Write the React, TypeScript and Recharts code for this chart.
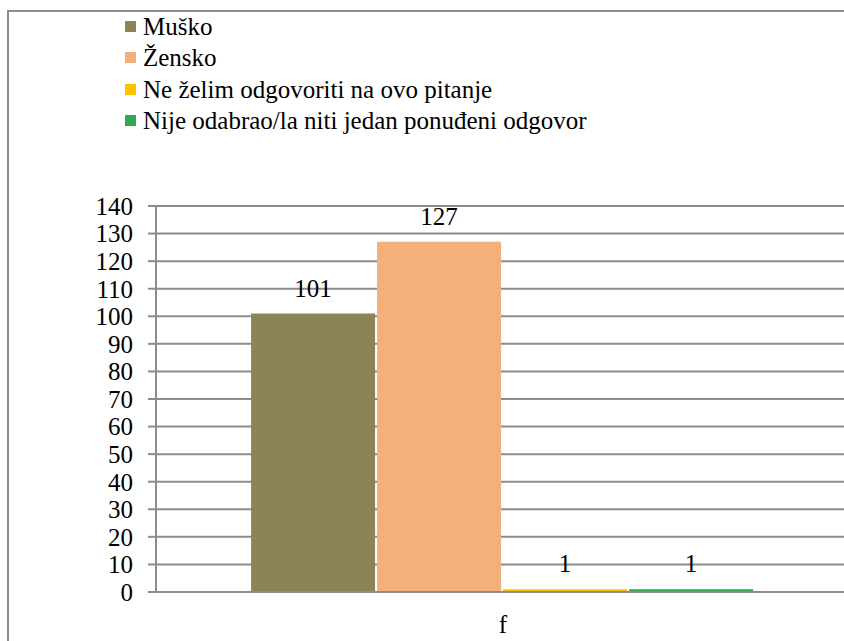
import { BarChart, Bar, XAxis, YAxis, CartesianGrid, LabelList } from "recharts"

// categories and series
const categories = ["f"]
const seriesKeys = ["musko", "zensko", "neZelim", "nijeOdabrao"]
const seriesNames = [
  "Muško",
  "Žensko",
  "Ne želim odgovoriti na ovo pitanje",
  "Nije odabrao/la niti jedan ponuđeni odgovor",
]
const seriesValues = [101, 127, 1, 1]
const seriesColors = ["#8c8457", "#f4b07a", "#ffc000", "#33a852"]
const yTicks = [0, 10, 20, 30, 40, 50, 60, 70, 80, 90, 100, 110, 120, 130, 140]

const FONT = "'Liberation Serif', 'Times New Roman', Times, serif"
const GRID = "#8c8c8c"

export default function App() {
  const chartData = categories.map((name) => {
    const row: Record<string, string | number> = { name }
    seriesKeys.forEach((key, i) => {
      row[key] = seriesValues[i]
    })
    return row
  })

  return (
    <div
      style={{
        position: "fixed",
        left: 0,
        top: 0,
        width: 844,
        height: 641,
        overflow: "hidden",
        background: "#fff",
        fontFamily: FONT,
      }}
    >
      <style>{"html, body { margin: 0; overflow: hidden; }"}</style>
      {/* outer chart frame, only top and left edges are visible */}
      <div
        style={{
          position: "absolute",
          left: 7,
          top: 10,
          width: 900,
          height: 700,
          borderLeft: `2px solid ${GRID}`,
          borderTop: `2px solid ${GRID}`,
        }}
      />

      <div style={{ position: "absolute", left: 125, top: 10.5 }}>
        {seriesNames.map((name, i) => (
          <div key={name} style={{ display: "flex", alignItems: "center", height: 31.5 }}>
            <span style={{ width: 11, height: 11, background: seriesColors[i], marginRight: 7 }} />
            <span style={{ fontSize: 25, lineHeight: "31.5px", color: "#000", whiteSpace: "nowrap" }}>
              {name}
            </span>
          </div>
        ))}
      </div>

      <div style={{ position: "absolute", left: 0, top: 0 }}>
        <BarChart
          width={900}
          height={641}
          data={chartData}
          margin={{ top: 206, right: 50, bottom: 9, left: 96 }}
          barCategoryGap="13.7%"
          barGap={2}
        >
          <CartesianGrid vertical={false} stroke={GRID} strokeWidth={2} />
          <XAxis
            dataKey="name"
            height={40}
            tickLine={false}
            axisLine={{ stroke: GRID, strokeWidth: 2 }}
            tickMargin={17}
            tick={{ fill: "#000", fontSize: 25, fontFamily: FONT }}
          />
          <YAxis
            width={60}
            domain={[0, 140]}
            ticks={yTicks}
            interval={0}
            tickSize={8}
            tickMargin={15}
            axisLine={{ stroke: GRID, strokeWidth: 2 }}
            tickLine={{ stroke: GRID, strokeWidth: 2 }}
            tick={{ fill: "#000", fontSize: 25, fontFamily: FONT }}
          />
          {seriesKeys.map((key, i) => (
            <Bar key={key} dataKey={key} name={seriesNames[i]} fill={seriesColors[i]} isAnimationActive={false}>
              <LabelList
                dataKey={key}
                position="top"
                offset={17}
                fill="#000"
                fontSize={25}
                fontFamily={FONT}
              />
            </Bar>
          ))}
        </BarChart>
      </div>
    </div>
  )
}
